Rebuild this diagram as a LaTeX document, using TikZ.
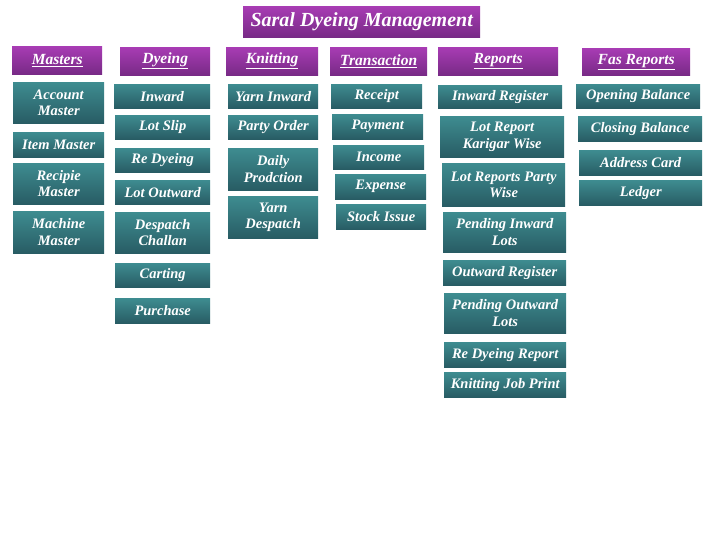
\documentclass[tikz,border=0pt]{standalone}
\usepackage{fontspec}
\setmainfont{Liberation Serif}
\definecolor{pTop}{HTML}{A83CB4}
\definecolor{pBot}{HTML}{782A86}
\definecolor{tTop}{HTML}{3E8C90}
\definecolor{tBot}{HTML}{285C64}
\begin{document}
\begin{tikzpicture}[x=1pt,y=-1pt,
  bx/.style 2 args={anchor=north west, inner sep=1pt, align=center, text=white,
    minimum width=#1pt, minimum height=#2pt,
    top color=tTop, bottom color=tBot,
    font=\bfseries\itshape\fontsize{14.5}{16.5}\selectfont},
  hd/.style 2 args={bx={#1}{#2}, top color=pTop, bottom color=pBot,
    font=\bfseries\itshape\fontsize{15.5}{17}\selectfont}]
\useasboundingbox (0,0) rectangle (720,540);
% title
\node[hd={237}{31}, font=\bfseries\itshape\fontsize{20}{22}\selectfont] (title) at (243,6) {Saral Dyeing Management};
% headers
\node[hd={90}{28}] (masters) at (12,46) {\underline{Masters}};
\node[hd={90}{28}] (dyeing) at (120,47) {\underline{Dyeing}};
\node[hd={92}{28}] (knitting) at (226,47) {\underline{Knitting}};
\node[hd={97}{28}] (transaction) at (330,47) {\underline{Transaction}};
\node[hd={120}{28}] (reports) at (438,47) {\underline{Reports}};
\node[hd={108}{27}] (fas) at (582,48) {\underline{Fas Reports}};
% masters
\node[bx={91}{41}] (acc) at (13,82) {Account\\Master};
\node[bx={91}{25}] (item) at (13,132) {Item Master};
\node[bx={91}{41}] (rec) at (13,163) {Recipie\\Master};
\node[bx={91}{42}] (mach) at (13,211) {Machine\\Master};
% dyeing
\node[bx={96}{24}] (inward) at (114,84) {Inward};
\node[bx={95}{24}] (lotslip) at (115,115) {Lot Slip};
\node[bx={95}{24}] (redye) at (115,148) {Re Dyeing};
\node[bx={95}{24}] (lotout) at (115,180) {Lot Outward};
\node[bx={95}{41}] (desp) at (115,212) {Despatch\\Challan};
\node[bx={95}{24}] (cart) at (115,263) {Carting};
\node[bx={95}{25}] (purch) at (115,298) {Purchase};
% knitting
\node[bx={90}{24}] (yin) at (228,84) {Yarn Inward};
\node[bx={90}{24}] (porder) at (228,115) {Party Order};
\node[bx={90}{42}] (daily) at (228,148) {Daily\\Prodction};
\node[bx={90}{42}] (ydesp) at (228,196) {Yarn\\Despatch};
% transaction
\node[bx={91}{24}] (receipt) at (331,84) {Receipt};
\node[bx={91}{25}] (payment) at (332,114) {Payment};
\node[bx={91}{24}] (income) at (333,145) {Income};
\node[bx={91}{25}] (expense) at (335,174) {Expense};
\node[bx={90}{25}] (stock) at (336,204) {Stock Issue};
% reports
\node[bx={124}{23}] (inreg) at (438,85) {Inward Register};
\node[bx={124}{41}] (lotkar) at (440,116) {Lot Report\\Karigar Wise};
\node[bx={123}{43}] (lotparty) at (442,163) {Lot Reports Party\\Wise};
\node[bx={123}{40}] (pendin) at (443,212) {Pending Inward\\Lots};
\node[bx={123}{25}] (outreg) at (443,260) {Outward Register};
\node[bx={122}{40}] (pendout) at (444,293) {Pending Outward\\Lots};
\node[bx={122}{25}] (redyerep) at (444,342) {Re Dyeing Report};
\node[bx={122}{25}] (knitjob) at (444,372) {Knitting Job Print};
% fas reports
\node[bx={124}{24}] (open) at (576,84) {Opening Balance};
\node[bx={124}{25}] (close) at (578,116) {Closing Balance};
\node[bx={123}{25}] (addr) at (579,150) {Address Card};
\node[bx={123}{25}] (ledger) at (579,180) {Ledger};
\end{tikzpicture}
\end{document}
